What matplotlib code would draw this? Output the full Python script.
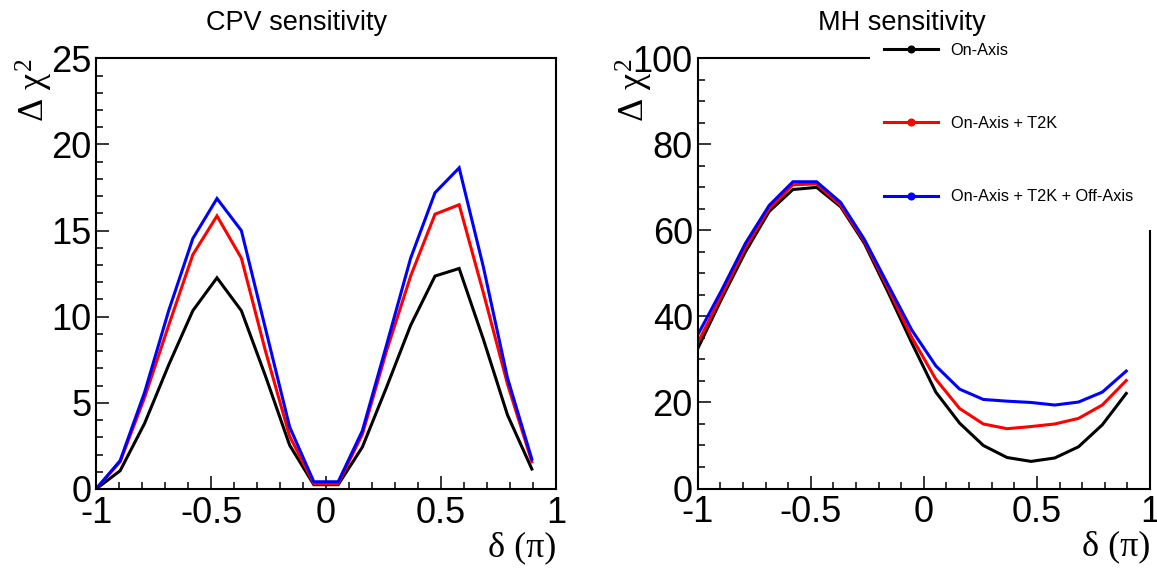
import matplotlib
matplotlib.use("Agg")
import matplotlib.pyplot as plt
from matplotlib.lines import Line2D
from matplotlib.patches import Rectangle
from matplotlib.ticker import MultipleLocator

# ---------------- data ----------------
delta = [-1.0, -0.895, -0.789, -0.684, -0.579, -0.474, -0.368, -0.263, -0.158, -0.053,
         0.053, 0.158, 0.263, 0.368, 0.474, 0.579, 0.684, 0.789, 0.895]

cpv_on = [0.0, 1.06, 3.8, 7.2, 10.35, 12.26, 10.35, 6.55, 2.54, 0.25,
          0.25, 2.43, 5.9, 9.5, 12.36, 12.8, 8.7, 4.3, 1.16]
cpv_t2k = [0.0, 1.58, 5.3, 9.5, 13.6, 15.85, 13.4, 8.0, 3.06, 0.32,
           0.32, 3.17, 8.0, 12.36, 15.95, 16.5, 11.4, 6.1, 1.58]
cpv_off = [0.0, 1.65, 5.6, 10.35, 14.54, 16.86, 15.0, 9.3, 3.6, 0.42,
           0.42, 3.38, 8.35, 13.4, 17.2, 18.64, 12.9, 6.45, 1.73]

mh_on = [32.5, 44.0, 55.0, 64.4, 69.5, 70.0, 65.5, 57.0, 45.6, 33.8,
         22.4, 15.2, 10.0, 7.2, 6.3, 7.1, 9.7, 14.8, 22.1]
mh_t2k = [33.8, 44.8, 56.0, 65.1, 70.6, 70.8, 65.8, 57.5, 46.5, 35.1,
          25.4, 18.6, 15.0, 13.9, 14.4, 15.0, 16.3, 19.4, 25.1]
mh_off = [35.7, 46.0, 57.0, 65.8, 71.3, 71.3, 66.5, 57.9, 47.3, 36.8,
          28.5, 23.1, 20.7, 20.3, 20.0, 19.4, 20.1, 22.4, 27.3]

series_labels = ["On-Axis", "On-Axis + T2K", "On-Axis + T2K + Off-Axis"]
series_colors = ["#000000", "#ff0000", "#0000ff"]
titles = ["CPV sensitivity", "MH sensitivity"]
xlabel = "δ (π)"
ylabel = r"$\Delta\ \chi^{2}$"

# ---------------- style ----------------
plt.rcParams["font.family"] = ["Liberation Sans", "DejaVu Sans"]
plt.rcParams["mathtext.fontset"] = "custom"
plt.rcParams["mathtext.rm"] = "Liberation Serif"
plt.rcParams["mathtext.it"] = "Liberation Serif"
plt.rcParams["mathtext.bf"] = "Liberation Serif:bold"

W, H = 1157, 572
fig = plt.figure(figsize=(W / 100, H / 100), dpi=100, facecolor="white")

def px_axes(x0, y0, x1, y1):
    return fig.add_axes([x0 / W, 1 - y1 / H, (x1 - x0) / W, (y1 - y0) / H])

axL = px_axes(96, 58.3, 556, 489)
axR = px_axes(697.7, 58.3, 1150, 488.5)

LW = 2.2
for ax, ys, ylim, ymaj, ymin in [
    (axL, [cpv_on, cpv_t2k, cpv_off], (0, 25), 5, 1),
    (axR, [mh_on, mh_t2k, mh_off], (0, 100), 20, 5),
]:
    for y, c in zip(ys, series_colors):
        ax.plot(delta, y, color=c, lw=LW, solid_joinstyle="miter")
    ax.set_xlim(-1, 1)
    ax.set_ylim(*ylim)
    ax.xaxis.set_major_locator(MultipleLocator(0.5))
    ax.xaxis.set_minor_locator(MultipleLocator(0.1))
    ax.yaxis.set_major_locator(MultipleLocator(ymaj))
    ax.yaxis.set_minor_locator(MultipleLocator(ymin))
    ax.xaxis.set_major_formatter(plt.FuncFormatter(lambda v, p: ("%g" % v)))
    ax.yaxis.set_major_formatter(plt.FuncFormatter(lambda v, p: ("%g" % v)))
    ax.tick_params(which="both", direction="in", top=False, right=False, width=1.1)
    ax.tick_params(which="major", length=9.4, labelsize=26)
    ax.tick_params(axis="x", which="major", pad=5)
    ax.tick_params(axis="y", which="major", pad=3.5)
    ax.tick_params(which="minor", length=4.7)
    for s in ax.spines.values():
        s.set_linewidth(1.5)
    ax.set_xlabel(xlabel, fontsize=26, family=["Liberation Serif", "DejaVu Serif"], loc="right")
    ax.set_ylabel(ylabel, fontsize=26, loc="top")

axL.xaxis.set_label_coords(1.0, -0.0975)
axR.xaxis.set_label_coords(1.0, -0.0975)
axL.yaxis.set_label_coords(-0.089, 1.0)
axR.yaxis.set_label_coords(-0.094, 1.0)

# white legend box covering part of the right frame (as in the original)
fig.add_artist(Rectangle((870 / W, 1 - 230 / H), 1 - 870 / W, 230 / H,
                         transform=fig.transFigure, facecolor="white",
                         edgecolor="none", zorder=2))

# titles
fig.text(297 / W, 1 - 23 / H, titles[0], fontsize=19.5, ha="center", va="center", zorder=10)
fig.text(902 / W, 1 - 23 / H, titles[1], fontsize=19.5, ha="center", va="center", zorder=10)

handles = [Line2D([], [], color=c, lw=LW, marker="o", markersize=4.8) for c in series_colors]
fs = 11.7
fig.legend(handles, series_labels, loc="upper left",
           bbox_to_anchor=(884 / W, 1 - 43 / H), bbox_transform=fig.transFigure,
           frameon=False, fontsize=fs, borderpad=0, borderaxespad=0,
           handlelength=3.3, handletextpad=0.8, labelspacing=3.58).set_zorder(10)

fig.savefig("out.png", dpi=100, facecolor="white")
